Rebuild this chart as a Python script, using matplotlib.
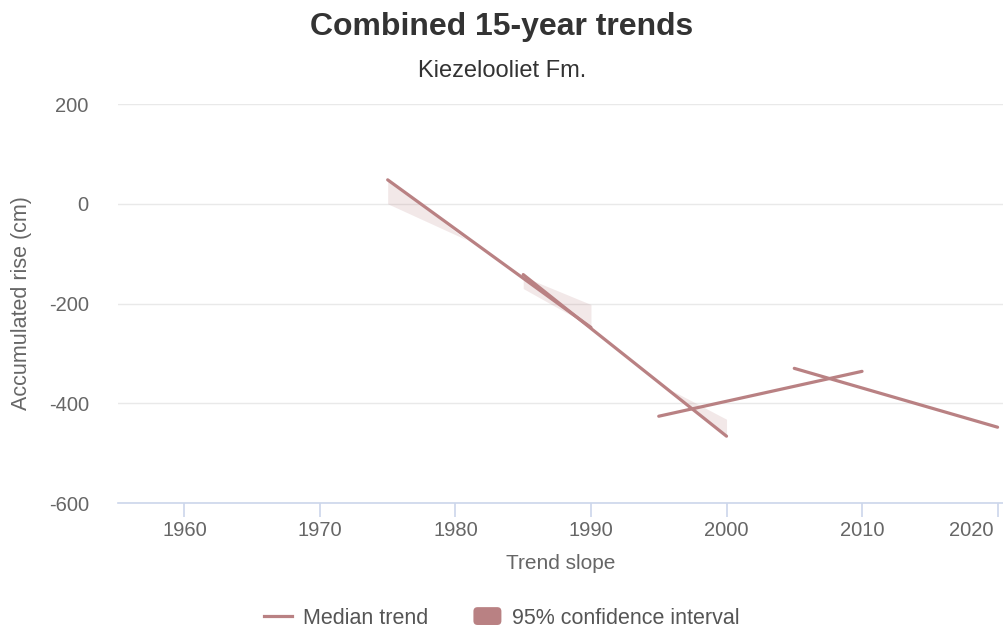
import matplotlib
matplotlib.use('Agg')
from matplotlib import pyplot as plt
from matplotlib.lines import Line2D
from matplotlib.patches import Patch, FancyBboxPatch
from matplotlib.legend_handler import HandlerPatch
from matplotlib.transforms import ScaledTranslation

plt.rcParams['font.family'] = ['Liberation Sans', 'DejaVu Sans']
plt.rcParams['axes.unicode_minus'] = False

# 15-year median trends (start/end year and accumulated rise in cm)
trend_start = [1975, 1985, 1995, 2005]
trend_end = [1990, 2000, 2010, 2020]
trend_y0 = [48, -142, -426, -330]
trend_y1 = [-248, -466, -336, -448]

# 95% confidence interval pieces
band_x = [[1975, 1980.8], [1985, 1990], [1996, 2000]]
band_low = [[0, -72], [-170, -246], [-375, -466]]
band_high = [[48, -72], [-146, -202], [-375, -432]]

x_ticks = [1960, 1970, 1980, 1990, 2000, 2010, 2020]
y_ticks = [-600, -400, -200, 0, 200]

line_col = '#b98183'
band_col = '#b98183'
text_col = '#666666'


def rounded_box(legend, orig_handle, xdescent, ydescent, width, height, fontsize):
    return FancyBboxPatch((-xdescent, -ydescent - 1), width, height + 2,
                          boxstyle='round,pad=0,rounding_size=3')


fig = plt.figure(figsize=(10.04, 6.32), dpi=100)
ax = fig.add_axes([0.1175, 0.2041, 0.8815, 0.6313])

for bx, lo, hi in zip(band_x, band_low, band_high):
    ax.fill_between(bx, lo, hi, color=band_col, alpha=0.18, linewidth=0)

for x0, x1, y0, y1 in zip(trend_start, trend_end, trend_y0, trend_y1):
    ax.plot([x0, x1], [y0, y1], color=line_col, lw=2.3, solid_capstyle='round')

ax.set_xlim(1955.1, 2020.4)
ax.set_ylim(-600, 200)
ax.set_xticks(x_ticks)
ax.set_yticks(y_ticks)
ax.grid(axis='y', color='#e9e9e9', lw=1)
ax.set_axisbelow(True)

for s in ['top', 'right', 'left']:
    ax.spines[s].set_visible(False)
ax.spines['bottom'].set_color('#ccd6eb')
ax.spines['bottom'].set_linewidth(1.2)

ax.tick_params(axis='x', colors='#ccd6eb', length=10, width=1.2, labelcolor=text_col,
               labelsize=14.5, pad=3)
ax.tick_params(axis='y', length=0, labelcolor=text_col, labelsize=14.5, pad=21)

# last label pulled in so it stays inside the figure
last = ax.get_xticklabels()[-1]
last.set_horizontalalignment('right')
last.set_transform(last.get_transform() + ScaledTranslation(-4 / 100, 0, fig.dpi_scale_trans))

ax.set_xlabel('Trend slope', fontsize=15, color=text_col, labelpad=10)
fig.text(22 / 1004, 1 - 303 / 632, 'Accumulated rise (cm)', rotation=90,
         ha='center', va='center', fontsize=15.5, color=text_col)

fig.text(0.5, 0.958, 'Combined 15-year trends', ha='center', va='center',
         fontsize=23, fontweight='bold', color='#333333')
fig.text(0.5, 0.888, 'Kiezelooliet Fm.', ha='center', va='center',
         fontsize=17, color='#333333')

handles = [Line2D([0], [0], color=line_col, lw=2.3),
           Patch(facecolor=line_col, edgecolor='none')]
fig.legend(handles, ['Median trend', '95% confidence interval'], loc='center',
           bbox_to_anchor=(0.5, 0.022), ncol=2, frameon=False, fontsize=15.5,
           labelcolor='#555555', handlelength=1.3, columnspacing=2.1, handletextpad=0.5,
           handler_map={Patch: HandlerPatch(patch_func=rounded_box)})

fig.savefig('out.png', dpi=100)
